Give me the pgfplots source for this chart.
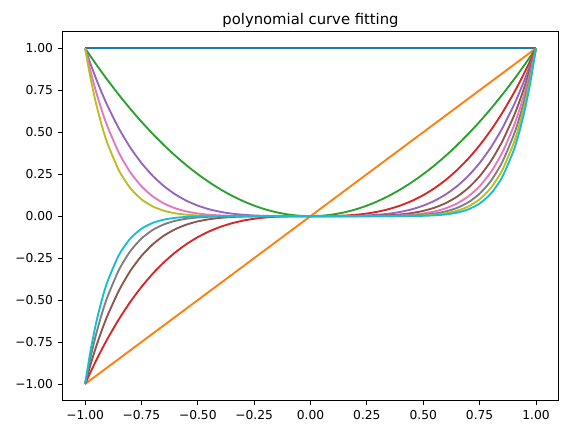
\documentclass[border=0pt]{standalone}
\usepackage{pgfplots}
\usepackage{pgfplotstable}
\pgfplotsset{compat=1.18}
\usepackage{fontspec}
\setmainfont{DejaVu Sans}
\definecolor{C0}{HTML}{1F77B4}
\definecolor{C1}{HTML}{FF7F0E}
\definecolor{C2}{HTML}{2CA02C}
\definecolor{C3}{HTML}{D62728}
\definecolor{C4}{HTML}{9467BD}
\definecolor{C5}{HTML}{8C564B}
\definecolor{C6}{HTML}{E377C2}
\definecolor{C7}{HTML}{7F7F7F}
\definecolor{C8}{HTML}{BCBD22}
\definecolor{C9}{HTML}{17BECF}
\pgfplotstableread{
x p2 p3 p4 p5 p6 p7 p8 p9
-1 1 -1 1 -1 1 -1 1 -1
-0.975 0.950625 -0.926859 0.903688 -0.881096 0.859068 -0.837591 0.816651 -0.796235
-0.95 0.9025 -0.857375 0.814506 -0.773781 0.735092 -0.698337 0.66342 -0.630249
-0.925 0.855625 -0.791453 0.732094 -0.677187 0.626398 -0.579418 0.535962 -0.495765
-0.9 0.81 -0.729 0.6561 -0.59049 0.531441 -0.478297 0.430467 -0.38742
-0.85 0.7225 -0.614125 0.522006 -0.443705 0.37715 -0.320577 0.272491 -0.231617
-0.8 0.64 -0.512 0.4096 -0.32768 0.262144 -0.209715 0.167772 -0.134218
-0.75 0.5625 -0.421875 0.316406 -0.237305 0.177979 -0.133484 0.100113 -0.075085
-0.7 0.49 -0.343 0.2401 -0.16807 0.117649 -0.082354 0.057648 -0.040354
-0.65 0.4225 -0.274625 0.178506 -0.116029 0.075419 -0.049022 0.031864 -0.020712
-0.6 0.36 -0.216 0.1296 -0.07776 0.046656 -0.027994 0.016796 -0.010078
-0.55 0.3025 -0.166375 0.091506 -0.050328 0.027681 -0.015224 0.008373 -0.004605
-0.5 0.25 -0.125 0.0625 -0.03125 0.015625 -0.007813 0.003906 -0.001953
-0.45 0.2025 -0.091125 0.041006 -0.018453 0.008304 -0.003737 0.001682 -0.000757
-0.4 0.16 -0.064 0.0256 -0.01024 0.004096 -0.001638 0.000655 -0.000262
-0.35 0.1225 -0.042875 0.015006 -0.005252 0.001838 -0.000643 0.000225 -0.000079
-0.3 0.09 -0.027 0.0081 -0.00243 0.000729 -0.000219 0.000066 -0.00002
-0.25 0.0625 -0.015625 0.003906 -0.000977 0.000244 -0.000061 0.000015 0
-0.2 0.04 -0.008 0.0016 -0.00032 0.000064 -0.000013 0 0
-0.15 0.0225 -0.003375 0.000506 -0.000076 0.000011 0 0 0
-0.1 0.01 -0.001 0.0001 -0.00001 0 0 0 0
-0.05 0.0025 -0.000125 0.000006 0 0 0 0 0
0 0 0 0 0 0 0 0 0
0.05 0.0025 0.000125 0.000006 0 0 0 0 0
0.1 0.01 0.001 0.0001 0.00001 0 0 0 0
0.15 0.0225 0.003375 0.000506 0.000076 0.000011 0 0 0
0.2 0.04 0.008 0.0016 0.00032 0.000064 0.000013 0 0
0.25 0.0625 0.015625 0.003906 0.000977 0.000244 0.000061 0.000015 0
0.3 0.09 0.027 0.0081 0.00243 0.000729 0.000219 0.000066 0.00002
0.35 0.1225 0.042875 0.015006 0.005252 0.001838 0.000643 0.000225 0.000079
0.4 0.16 0.064 0.0256 0.01024 0.004096 0.001638 0.000655 0.000262
0.45 0.2025 0.091125 0.041006 0.018453 0.008304 0.003737 0.001682 0.000757
0.5 0.25 0.125 0.0625 0.03125 0.015625 0.007813 0.003906 0.001953
0.55 0.3025 0.166375 0.091506 0.050328 0.027681 0.015224 0.008373 0.004605
0.6 0.36 0.216 0.1296 0.07776 0.046656 0.027994 0.016796 0.010078
0.65 0.4225 0.274625 0.178506 0.116029 0.075419 0.049022 0.031864 0.020712
0.7 0.49 0.343 0.2401 0.16807 0.117649 0.082354 0.057648 0.040354
0.75 0.5625 0.421875 0.316406 0.237305 0.177979 0.133484 0.100113 0.075085
0.8 0.64 0.512 0.4096 0.32768 0.262144 0.209715 0.167772 0.134218
0.85 0.7225 0.614125 0.522006 0.443705 0.37715 0.320577 0.272491 0.231617
0.9 0.81 0.729 0.6561 0.59049 0.531441 0.478297 0.430467 0.38742
0.925 0.855625 0.791453 0.732094 0.677187 0.626398 0.579418 0.535962 0.495765
0.95 0.9025 0.857375 0.814506 0.773781 0.735092 0.698337 0.66342 0.630249
0.975 0.950625 0.926859 0.903688 0.881096 0.859068 0.837591 0.816651 0.796235
1 1 1 1 1 1 1 1 1
}\powers
\begin{document}
\begin{tikzpicture}
\path[use as bounding box] (-46.9pt,-25.5pt) rectangle (379.1pt,300.6pt);
\begin{axis}[
  at={(0,0)}, anchor=south west,
  scale only axis, width=372pt, height=277pt,
  xmin=-1.1, xmax=1.1, ymin=-1.1, ymax=1.1,
  axis line style={line width=0.6pt},
  tick style={line width=0.6pt, black},
  tick align=outside, major tick length=3.2pt,
  xtick={-1,-0.75,-0.5,-0.25,0,0.25,0.5,0.75,1},
  xticklabels={−1.00,−0.75,−0.50,−0.25,0.00,0.25,0.50,0.75,1.00},
  ytick={-1,-0.75,-0.5,-0.25,0,0.25,0.5,0.75,1},
  yticklabels={−1.00,−0.75,−0.50,−0.25,0.00,0.25,0.50,0.75,1.00},
  ticklabel style={font=\fontsize{9.2}{11}\selectfont},
  xticklabel style={yshift=-0.5pt},
  yticklabel style={xshift=-0.5pt},
  xtick pos=bottom, ytick pos=left,
  every axis plot/.append style={line width=1.4pt, line join=round},
  clip=false,
]
\addplot[C0] coordinates {(-1,1) (1,1)};
\addplot[C1] coordinates {(-1,-1) (1,1)};
\addplot[C2, smooth, tension=0.4] table[x=x,y=p2] {\powers};
\addplot[C3, smooth, tension=0.4] table[x=x,y=p3] {\powers};
\addplot[C4, smooth, tension=0.4] table[x=x,y=p4] {\powers};
\addplot[C5, smooth, tension=0.4] table[x=x,y=p5] {\powers};
\addplot[C6, smooth, tension=0.4] table[x=x,y=p6] {\powers};
\addplot[C7, smooth, tension=0.4] table[x=x,y=p7] {\powers};
\addplot[C8, smooth, tension=0.4] table[x=x,y=p8] {\powers};
\addplot[C9, smooth, tension=0.4] table[x=x,y=p9] {\powers};
\node[anchor=base, font=\fontsize{11.1}{13}\selectfont] at (rel axis cs:0.5,1) [yshift=5.5pt] {polynomial curve fitting};
\end{axis}
\end{tikzpicture}
\end{document}
